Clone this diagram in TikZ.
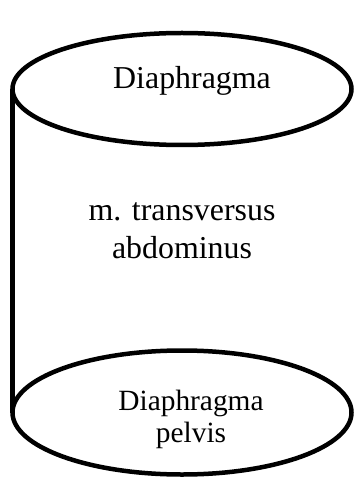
\documentclass[tikz,border=0pt]{standalone}
\usepackage{fontspec}
\setmainfont{Liberation Serif}
\usetikzlibrary{shapes.geometric}
\begin{document}
\begin{tikzpicture}[x=1bp,y=-1bp,
  disc/.style={ellipse,draw,line width=4.5bp,inner sep=0pt,outer sep=0pt},
  label/.style={align=center,inner sep=0pt,anchor=base}]
\useasboundingbox (0,0) rectangle (353,482);
% top and bottom ends of the cylinder
\node[disc,minimum width=339bp,minimum height=112bp] (top) at (182,89) {};
\node[disc,minimum width=339bp,minimum height=124bp] (bot) at (182,412.5) {};
% side wall
\draw[line width=4.5bp] (top.west) -- (bot.west);
% labels (a multi-line label sits on the baseline of its last line)
\node[label,font=\fontsize{32}{36}\selectfont] (ttop) at (192,89) {Diaphragma};
\node[label,font=\fontsize{32}{36}\selectfont] (tmid) at (182,258) {m. transversus\\[2bp]abdominus};
\node[label,font=\fontsize{29.5}{32}\selectfont] (tbot) at (191,442) {Diaphragma\\pelvis};
\end{tikzpicture}
\end{document}
